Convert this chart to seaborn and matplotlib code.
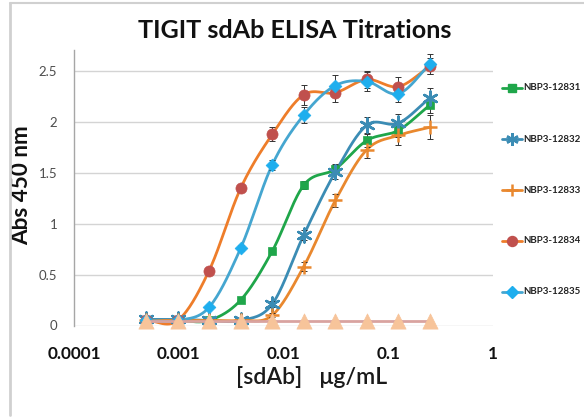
import numpy as np
import pandas as pd
import matplotlib
matplotlib.use("Agg")
import matplotlib.pyplot as plt
from matplotlib.lines import Line2D
import seaborn as sns

# ---------------- data ----------------
conc = [0.00049, 0.00098, 0.00195, 0.0039, 0.0078, 0.0156, 0.03125, 0.0625, 0.125, 0.25]
series_names = ["NBP3-12831", "NBP3-12832", "NBP3-12833", "NBP3-12834", "NBP3-12835"]
v12831 = [0.05, 0.05, 0.05, 0.25, 0.73, 1.38, 1.54, 1.82, 1.92, 2.17]
v12832 = [0.06, 0.06, 0.05, 0.05, 0.21, 0.89, 1.51, 1.97, 1.99, 2.24]
v12833 = [0.05, 0.05, 0.05, 0.05, 0.10, 0.58, 1.23, 1.73, 1.87, 1.95]
v12834 = [0.05, 0.05, 0.54, 1.35, 1.88, 2.27, 2.29, 2.42, 2.35, 2.55]
v12835 = [0.05, 0.05, 0.18, 0.76, 1.58, 2.07, 2.36, 2.40, 2.28, 2.57]
control = [0.04, 0.04, 0.04, 0.04, 0.04, 0.04, 0.04, 0.04, 0.04, 0.04]
e12831 = [0.01, 0.01, 0.01, 0.02, 0.03, 0.04, 0.05, 0.06, 0.07, 0.08]
e12832 = [0.01, 0.01, 0.01, 0.01, 0.03, 0.05, 0.07, 0.08, 0.09, 0.10]
e12833 = [0.01, 0.01, 0.01, 0.01, 0.02, 0.04, 0.06, 0.08, 0.09, 0.12]
e12834 = [0.01, 0.01, 0.02, 0.03, 0.07, 0.10, 0.09, 0.08, 0.09, 0.08]
e12835 = [0.01, 0.01, 0.02, 0.03, 0.05, 0.08, 0.10, 0.09, 0.08, 0.10]
xtick_vals = [0.0001, 0.001, 0.01, 0.1, 1]
xtick_labels = ["0.0001", "0.001", "0.01", "0.1", "1"]
ytick_vals = [0, 0.5, 1, 1.5, 2, 2.5]
ytick_labels = ["0", "0.5", "1", "1.5", "2", "2.5"]

values = [v12831, v12832, v12833, v12834, v12835]
errors = [e12831, e12832, e12833, e12834, e12835]

# styles
line_colors = ["#1fa64a", "#3b8cb4", "#e9882e", "#ee7d2a", "#45a6d0"]
marker_colors = ["#1fa64a", "#3b8cb4", "#e9882e", "#c0504d", "#1eaeee"]
markers = ["s", (6, 2, 0), "+", "o", "D"]
stroke = [False, True, True, False, False]
msizes = [6, 10, 10, 8, 6.5]
ctrl_line = "#d9a3a0"
ctrl_marker = "#f7c49a"

sns.set_style("white")
plt.rcParams["font.family"] = ["Lato", "DejaVu Sans"]

W, H = 584, 418
fig = plt.figure(figsize=(W / 100, H / 100), dpi=100)
ax = fig.add_axes([74 / W, 1 - 325.5 / H, (493 - 74) / W, (325.5 - 50) / H])


def smooth(xs, ys, n=30):
    u = np.log10(np.asarray(xs, float))
    y = np.asarray(ys, float)
    P = np.column_stack([u, y])
    m = len(P)
    T = np.zeros_like(P)
    for i in range(m):
        a = P[max(i - 1, 0)]
        b = P[min(i + 1, m - 1)]
        T[i] = (b - a) / 2.0 if 0 < i < m - 1 else (b - a)
    out = []
    t = np.linspace(0, 1, n)
    for i in range(m - 1):
        h00 = 2 * t**3 - 3 * t**2 + 1
        h10 = t**3 - 2 * t**2 + t
        h01 = -2 * t**3 + 3 * t**2
        h11 = t**3 - t**2
        seg = (h00[:, None] * P[i] + h10[:, None] * T[i]
               + h01[:, None] * P[i + 1] + h11[:, None] * T[i + 1])
        out.append(seg if i == 0 else seg[1:])
    S = np.vstack(out)
    return 10 ** S[:, 0], S[:, 1]


ax.set_xscale("log")
ax.set_xlim(0.0001, 1)
ax.set_ylim(0, 2.71)

for yv in ytick_vals:
    ax.axhline(yv, color="#d4d4d4", lw=1.0, zorder=0)

for i, name in enumerate(series_names):
    sx, sy = smooth(conc, values[i])
    ax.plot(sx, sy, color=line_colors[i], lw=2.0, zorder=2)
    ax.errorbar(conc, values[i], yerr=errors[i], fmt="none", ecolor="#333333",
                elinewidth=0.7, capsize=2, capthick=0.7, zorder=3)
    df = pd.DataFrame({"x": conc, "y": values[i]})
    if stroke[i]:
        sns.scatterplot(data=df, x="x", y="y", ax=ax, marker=markers[i],
                        s=msizes[i] ** 2, color=marker_colors[i], edgecolor=marker_colors[i],
                        linewidth=1.8, zorder=4, legend=False)
    else:
        sns.scatterplot(data=df, x="x", y="y", ax=ax, marker=markers[i],
                        s=msizes[i] ** 2, color=marker_colors[i], edgecolor=marker_colors[i],
                        linewidth=0.5, zorder=4, legend=False)

ax.plot(conc, control, color=ctrl_line, lw=2.0, zorder=5)
dfc = pd.DataFrame({"x": conc, "y": control})
sns.scatterplot(data=dfc, x="x", y="y", ax=ax, marker="^", s=120, color=ctrl_marker,
                edgecolor=ctrl_marker, linewidth=0.5, zorder=6, legend=False, clip_on=False)

for sp in ["top", "right", "bottom"]:
    ax.spines[sp].set_visible(False)
ax.spines["left"].set_color("#a6a6a6")
ax.spines["left"].set_linewidth(1.0)
ax.set_yticks(ytick_vals)
ax.set_yticklabels(ytick_labels, fontsize=9.5, color="#4d4d4d")
ax.set_xticks(xtick_vals)
ax.set_xticklabels(xtick_labels, fontsize=12, fontweight="bold", color="#111111")
ax.xaxis.set_minor_locator(matplotlib.ticker.NullLocator())
ax.tick_params(axis="y", which="major", direction="out", length=4, color="#a6a6a6", pad=8)
ax.tick_params(axis="x", which="major", direction="out", length=4, color="#c8c8c8", pad=11)

xl = ax.set_xlabel("[sdAb]   μg/mL", fontsize=16, fontweight="semibold", color="#1a1a1a")
ax.xaxis.set_label_coords((312 - 74) / 419, (325.5 - 377) / 275.5)
xl.set_va("center")
yl = ax.set_ylabel("Abs 450 nm", fontsize=15, fontweight="bold", color="#111111")
ax.yaxis.set_label_coords((22 - 74) / 419, (325.5 - 185) / 275.5)
yl.set_va("center")

title = fig.text(295 / W, 1 - 30 / H, "TIGIT sdAb ELISA Titrations", ha="center", va="center",
                 fontsize=18, fontweight="bold", color="#111111")

# manual legend (figure coordinates)
leg_rows = [88, 139, 190, 241, 292]
leg_texts = []
for i, name in enumerate(series_names):
    yy = 1 - leg_rows[i] / H
    fig.add_artist(Line2D([502 / W, 522 / W], [yy, yy], transform=fig.transFigure,
                          color=line_colors[i], lw=2))
    mk = dict(marker=markers[i], markersize=msizes[i] * 0.9, markeredgecolor=marker_colors[i])
    if stroke[i]:
        mk["markeredgewidth"] = 1.8
    else:
        mk["markerfacecolor"] = marker_colors[i]
    fig.add_artist(Line2D([512 / W], [yy], transform=fig.transFigure, linestyle="none", **mk))
    leg_texts.append(fig.text(523 / W, yy, name, ha="left", va="center", fontsize=6.5,
                              fontweight="bold", color="#222222"))

# fit text sizes to measured pixel extents
fig.canvas.draw()
r = fig.canvas.get_renderer()


def fit(t, target, use_height=False):
    bb = t.get_window_extent(r)
    cur = bb.height if use_height else bb.width
    if cur > 0:
        t.set_fontsize(t.get_fontsize() * target / cur)


fit(title, 314)
fit(xl, 151)
fit(yl, 120, use_height=True)
for t in leg_texts:
    fit(t, 58)
s = 12
for t in ax.get_xticklabels():
    if t.get_text() == "0.0001":
        bb = t.get_window_extent(r)
        s = t.get_fontsize() * 54 / bb.width
for t in ax.get_xticklabels():
    t.set_fontsize(s)

fig.add_artist(Line2D([10 / W, 10 / W], [1 - 415 / H, 1 - 3 / H], transform=fig.transFigure,
                      color="#d0d0d0", lw=2))
fig.add_artist(Line2D([10 / W, 1], [1 - 3 / H, 1 - 3 / H], transform=fig.transFigure,
                      color="#d0d0d0", lw=1.5))

fig.savefig("out.png", dpi=100)
